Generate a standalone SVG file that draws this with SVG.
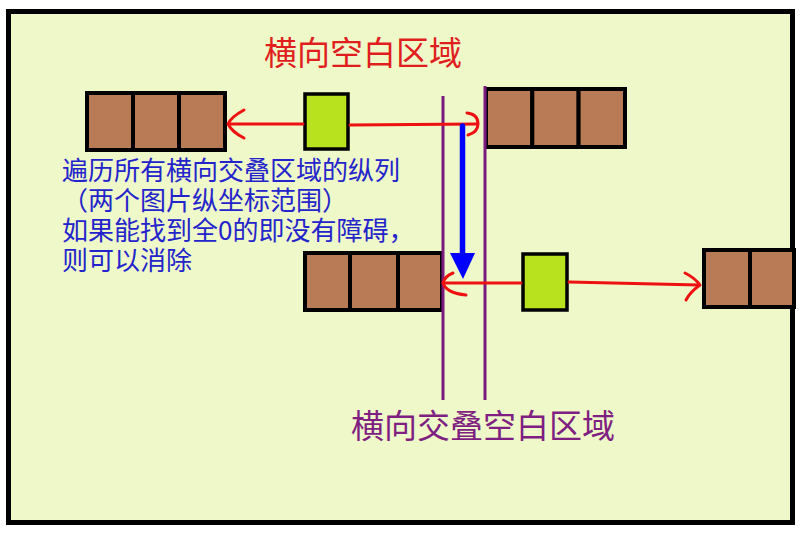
<svg xmlns="http://www.w3.org/2000/svg" width="803" height="534" viewBox="0 0 803 534">
<style>
.cell{fill:#B97B56;stroke:#000;stroke-width:4}
.grn{fill:#B8E21E;stroke:#000;stroke-width:3.5}
.red{fill:none;stroke:#EE1111;stroke-width:3;stroke-linecap:round;stroke-linejoin:round}
.pur{stroke:#7A1A7E;stroke-width:3}
.t{font-family:"Noto Sans CJK SC","Noto Sans",sans-serif}
</style>
<rect x="0" y="0" width="803" height="534" fill="#fff"/>
<g id="frame"><rect x="8.5" y="11.5" width="784" height="511" fill="#EFF8C9" stroke="#000" stroke-width="5"/></g>
<g id="title"><text class="t" x="264" y="65" font-size="33" fill="#E01E1E">横向空白区域</text></g>
<g id="block-top-left">
<rect class="cell" x="87" y="93" width="46" height="57"/>
<rect class="cell" x="133" y="93" width="46" height="57"/>
<rect class="cell" x="179" y="93" width="46" height="57"/>
</g>
<g id="green-top"><rect class="grn" x="305" y="94" width="43" height="55"/></g>
<g id="block-top-right">
<rect class="cell" x="486" y="89" width="46.3" height="58"/>
<rect class="cell" x="532.3" y="89" width="46.3" height="58"/>
<rect class="cell" x="578.6" y="89" width="46.4" height="58"/>
</g>
<g id="block-bottom-left">
<rect class="cell" x="305" y="253" width="45" height="57"/>
<rect class="cell" x="350" y="253" width="48" height="57"/>
<rect class="cell" x="398" y="253" width="44" height="57"/>
</g>
<g id="green-bottom"><rect class="grn" x="523" y="254" width="44" height="56"/></g>
<g id="block-bottom-right">
<rect class="cell" x="704" y="250" width="46" height="57"/>
<rect class="cell" x="750" y="250" width="44" height="57"/>
</g>
<g id="boundaries">
<line class="pur" x1="443" y1="96" x2="443" y2="400"/>
<line class="pur" x1="485" y1="86" x2="485" y2="400"/>
</g>
<g id="connectors">
<line class="red" x1="303" y1="124" x2="229" y2="124"/>
<path class="red" d="M244,110 Q231,117 228,124 Q232,132 244,138"/>
<line class="red" x1="350" y1="125" x2="477" y2="124"/>
<path class="red" d="M467,113 Q478,114 478,124 Q478,132 468,135"/>
<line class="red" x1="521" y1="283" x2="444" y2="283"/>
<path class="red" d="M453,273 Q445,276 443,283 Q446,293 466,295"/>
<line class="red" x1="569" y1="282" x2="699" y2="285"/>
<path class="red" d="M685,273 Q695,278 700,285 Q690,292 686,300"/>
<line x1="462.5" y1="126" x2="462.5" y2="256" stroke="#0000FF" stroke-width="5.5" stroke-linecap="round"/>
<polygon points="450,253 475,253 463,279" fill="#0000FF"/>
</g>
<g id="note" class="t" font-size="26" fill="#2424CC">
<text x="62" y="180">遍历所有横向交叠区域的纵列</text>
<text x="62" y="210">（两个图片纵坐标范围）</text>
<text x="62" y="240">如果能找到全0的即没有障碍，</text>
<text x="62" y="270">则可以消除</text>
</g>
<g id="label-bottom"><text class="t" x="351" y="438" font-size="33" fill="#7F1F82">横向交叠空白区域</text></g>
</svg>
